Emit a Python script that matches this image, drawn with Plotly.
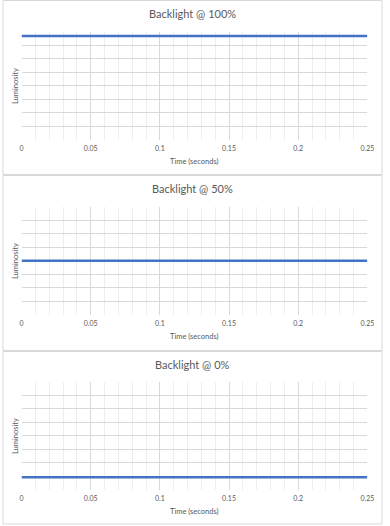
import plotly.graph_objects as go

W, H = 390, 526

time_s = [0.000, 0.005, 0.010, 0.015, 0.020, 0.025, 0.030, 0.035, 0.040, 0.045,
          0.050, 0.055, 0.060, 0.065, 0.070, 0.075, 0.080, 0.085, 0.090, 0.095,
          0.100, 0.105, 0.110, 0.115, 0.120, 0.125, 0.130, 0.135, 0.140, 0.145,
          0.150, 0.155, 0.160, 0.165, 0.170, 0.175, 0.180, 0.185, 0.190, 0.195,
          0.200, 0.205, 0.210, 0.215, 0.220, 0.225, 0.230, 0.235, 0.240, 0.245,
          0.250]

lum_100 = [384, 383, 384, 384, 383, 384, 384, 383, 384, 384,
           383, 384, 384, 384, 384, 383, 384, 384, 384, 383,
           384, 384, 383, 384, 384, 384, 384, 383, 384, 384,
           384, 384, 384, 384, 383, 384, 384, 384, 384, 384,
           384, 383, 384, 384, 384, 384, 384, 384, 384, 383,
           384]
lum_50 = [200, 200, 200, 200, 201, 200, 200, 201, 200, 200,
          200, 200, 200, 200, 201, 200, 200, 201, 200, 200,
          200, 201, 200, 200, 200, 200, 200, 201, 200, 200,
          200, 201, 200, 200, 201, 200, 201, 200, 200, 201,
          200, 201, 200, 200, 200, 201, 200, 200, 200, 200,
          200]
lum_0 = [47, 47, 46, 47, 46, 47, 47, 46, 47, 47,
         46, 47, 47, 47, 46, 47, 47, 47, 46, 47,
         47, 47, 46, 47, 47, 46, 47, 47, 47, 46,
         47, 47, 46, 47, 47, 47, 46, 47, 47, 47,
         46, 47, 47, 47, 46, 47, 47, 47, 46, 47,
         47]

titles = ["Backlight @ 100%", "Backlight @ 50%", "Backlight @ 0%"]
series = [lum_100, lum_50, lum_0]
x_ticks = [0, 0.05, 0.1, 0.15, 0.2, 0.25]
x_tick_text = ["0", "0.05", "0.1", "0.15", "0.2", "0.25"]

FONT = "Lato"
TXT = "#595959"
GRID = "#d9d9d9"
MINOR = "#eeeeee"
LINE = "#4472C4"

# panel geometry in pixels (top of panel, plot top, plot bottom)
panels = [(0, 31.7, 140.0), (175, 206.7, 315.0), (351, 381.7, 490.0)]
panel_bottoms = [174.5, 350.5, 524]
x0px, x1px = 20.0, 374.0

fig = go.Figure()
shapes = []
annotations = []
for i, (ptop, ytop, ybot) in enumerate(panels):
    n = "" if i == 0 else str(i + 1)
    fig.add_trace(go.Scatter(x=time_s, y=series[i], mode="lines",
                             line=dict(color=LINE, width=2.5),
                             xaxis="x" + n, yaxis="y" + n, showlegend=False,
                             hoverinfo="skip"))
    fig.update_layout({
        "xaxis" + n: dict(domain=[x0px / W, x1px / W], range=[0, 0.25],
                          anchor="y" + n, tickvals=x_ticks, ticktext=x_tick_text,
                          showgrid=True, gridcolor=GRID, gridwidth=1,
                          zeroline=False, showline=False, ticks="",
                          ticklabelstandoff=3,
                          tickfont=dict(family=FONT, size=7, color=TXT),
                          minor=dict(dtick=0.01, tick0=0, showgrid=True,
                                     gridcolor=MINOR, gridwidth=1, ticks=""),
                          fixedrange=True),
        "yaxis" + n: dict(domain=[1 - ybot / H, 1 - ytop / H], range=[0, 400],
                          anchor="x" + n, dtick=50, showticklabels=False,
                          showgrid=True, gridcolor=GRID, gridwidth=1,
                          zeroline=False, showline=False, ticks="",
                          fixedrange=True),
    })
    pbot = panel_bottoms[i]
    shapes.append(dict(type="rect", xref="paper", yref="paper",
                       x0=1 / W, x1=389 / W, y0=1 - pbot / H, y1=1 - (ptop + 0.5) / H,
                       line=dict(color="#d9d9d9", width=1), fillcolor="rgba(0,0,0,0)",
                       layer="below"))
    annotations.append(dict(text=titles[i], x=195 / W, y=1 - (ptop + 13.5) / H,
                            xref="paper", yref="paper", showarrow=False,
                            xanchor="center", yanchor="middle",
                            font=dict(family=FONT, size=11, color=TXT)))
    annotations.append(dict(text="Time (seconds)", x=(x0px + x1px) / 2 / W,
                            y=1 - (ybot + 21.5) / H, xref="paper", yref="paper",
                            showarrow=False, xanchor="center", yanchor="middle",
                            font=dict(family=FONT, size=7.5, color=TXT)))
    annotations.append(dict(text="Luminosity", x=14.5 / W, y=1 - (ytop + ybot) / 2 / H,
                            xref="paper", yref="paper", showarrow=False,
                            textangle=-90, xanchor="center", yanchor="middle",
                            font=dict(family=FONT, size=7.5, color=TXT)))

fig.update_layout(width=W, height=H, margin=dict(l=0, r=0, t=0, b=0),
                  paper_bgcolor="white", plot_bgcolor="white",
                  shapes=shapes, annotations=annotations)

fig.write_html("out.html", config={"displayModeBar": False})
